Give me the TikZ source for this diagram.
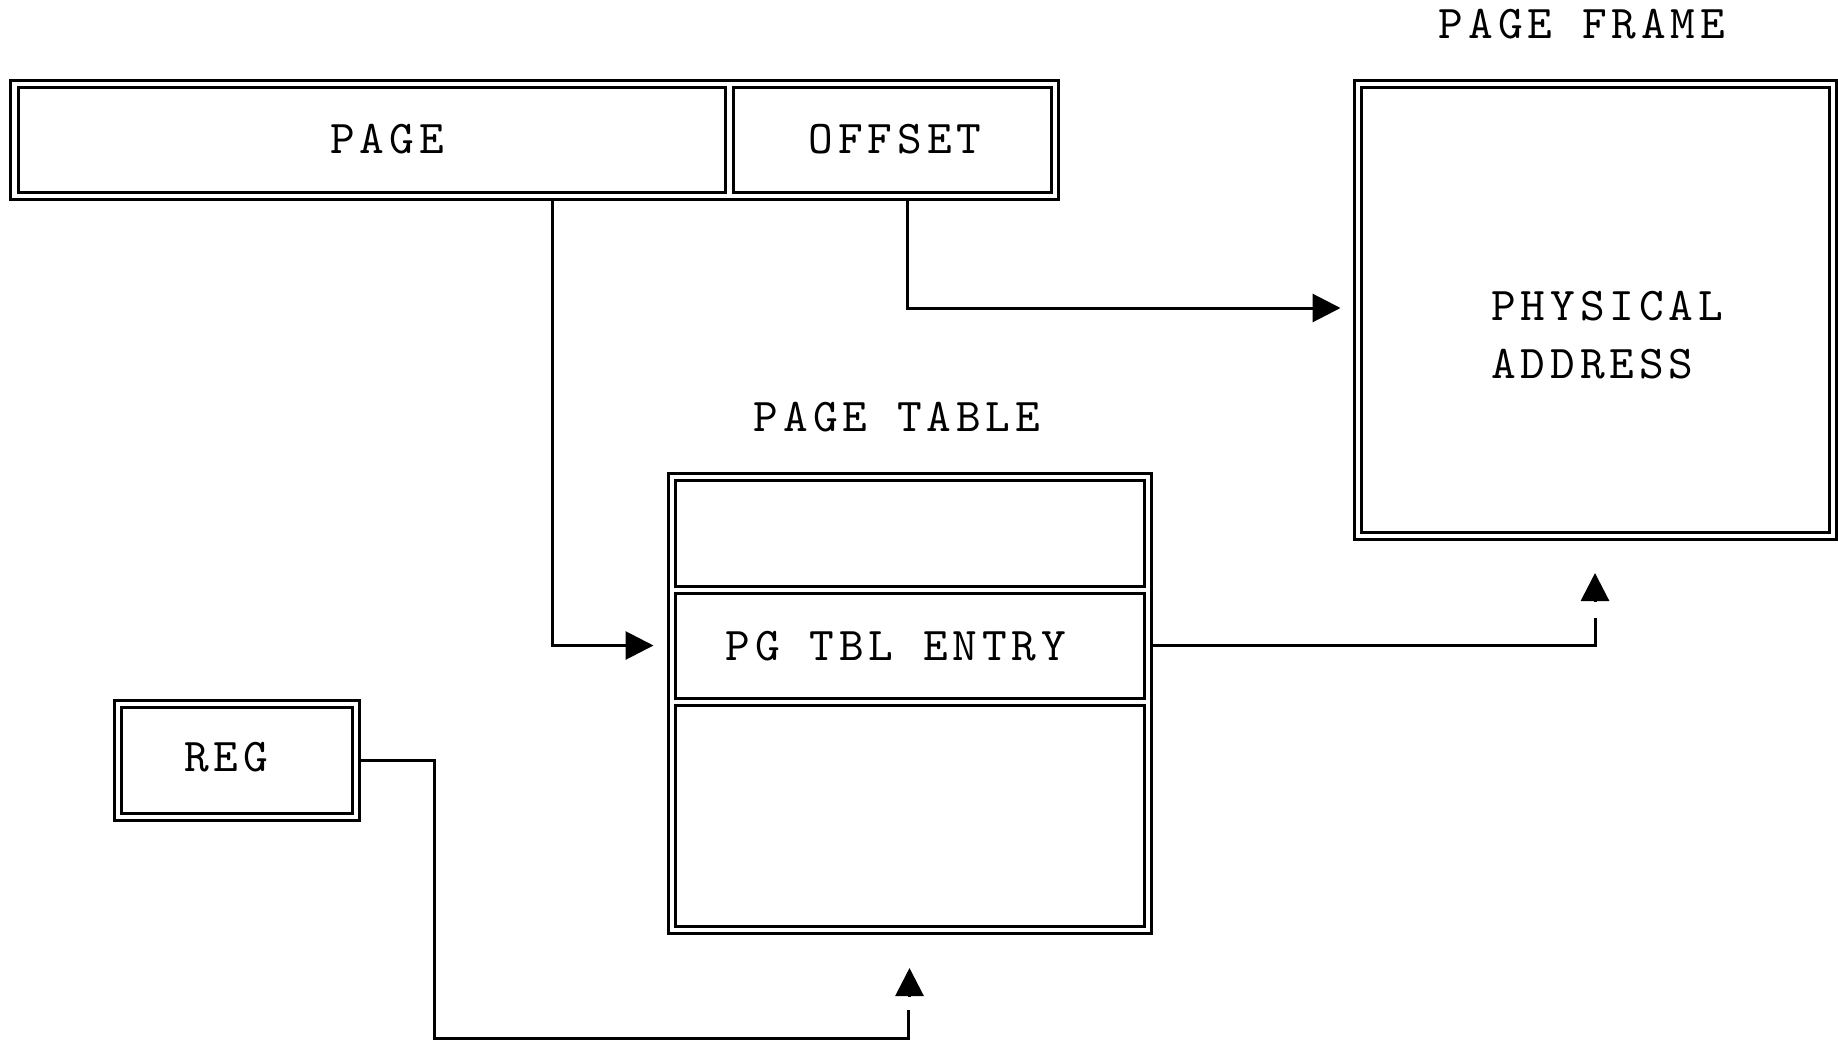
\documentclass[tikz,border=0pt]{standalone}
\usepackage{fontspec}
\newfontfamily\lmtt{lmmono10-regular.otf}[LetterSpace=10.5]
\usetikzlibrary{arrows.meta}
\tikzset{
  x=1pt, y=-1pt,
  boxline/.style={draw=black, line width=3pt, inner sep=0pt, rectangle},
  lbl/.style={font=\fontsize{47}{58}\selectfont\lmtt, inner sep=0pt, text=black},
  conn/.style={draw=black, line width=3pt},
  tipto/.style={-{Triangle[length=28pt,width=28pt]}},
}
\begin{document}
\begin{tikzpicture}
\useasboundingbox (0,0) rectangle (1838,1041);
% virtual address
\node[boxline, minimum width=1048pt, minimum height=118.5pt] (top) at (534,139.75) {};
\node[boxline, minimum width=707pt, minimum height=105pt] (page) at (371.5,139.5) {};
\node[boxline, minimum width=318pt, minimum height=105pt] (offset) at (892,139.5) {};
\node[lbl] (tpage) at (387,139) {PAGE};
\node[lbl] (toffset) at (895,139) {OFFSET};
% page frame
\node[lbl] (tframe) at (1582,24) {PAGE FRAME};
\node[boxline, minimum width=482pt, minimum height=459pt] (frame) at (1595,309.5) {};
\node[boxline, minimum width=468pt, minimum height=445pt] (framein) at (1595,309.5) {};
\node[lbl, align=left, anchor=west] (tphys) at (1491,335) {PHYSICAL\\ADDRESS};
% page table
\node[lbl] (ttable) at (897,417) {PAGE TABLE};
\node[boxline, minimum width=483pt, minimum height=459.5pt] (tbl) at (909.5,703.25) {};
\node[boxline, minimum width=469pt, minimum height=106pt] (row1) at (909.5,533) {};
\node[boxline, minimum width=469pt, minimum height=105pt] (entry) at (909.5,645.5) {};
\node[boxline, minimum width=469pt, minimum height=221pt] (row3) at (909.5,815.5) {};
\node[lbl] (tentry) at (896,646) {PG TBL ENTRY};
% register
\node[boxline, minimum width=245pt, minimum height=120pt] (reg) at (236.5,760) {};
\node[boxline, minimum width=231pt, minimum height=106pt] (regin) at (236.5,760) {};
\node[lbl] (treg) at (226,757) {REG};
% connectors
\draw[conn, tipto] (552,0 |- top.south) |- ([xshift=-13pt]tbl.west |- entry.west);
\draw[conn, tipto] (907,0 |- top.south) |- ([xshift=-12pt]frame.west |- 0,308);
\coordinate (cup) at (1595,618);
\coordinate (ctip) at ([yshift=-32.5pt]frame.south);
\coordinate (cbase) at ([yshift=-61.5pt]frame.south);
\draw[conn] (tbl.east |- entry.east) -| (cup);
\draw[conn, tipto] (cbase) -- (ctip);
\coordinate (dcorner) at (434,1038);
\coordinate (dup) at (908,1010);
\coordinate (dtip) at ([yshift=-33.5pt]tbl.south);
\coordinate (dbase) at ([yshift=-62.5pt]tbl.south);
\draw[conn] (reg.east) -| (dcorner) -| (dup);
\draw[conn, tipto] (dbase) -- (dtip);
\end{tikzpicture}
\end{document}
